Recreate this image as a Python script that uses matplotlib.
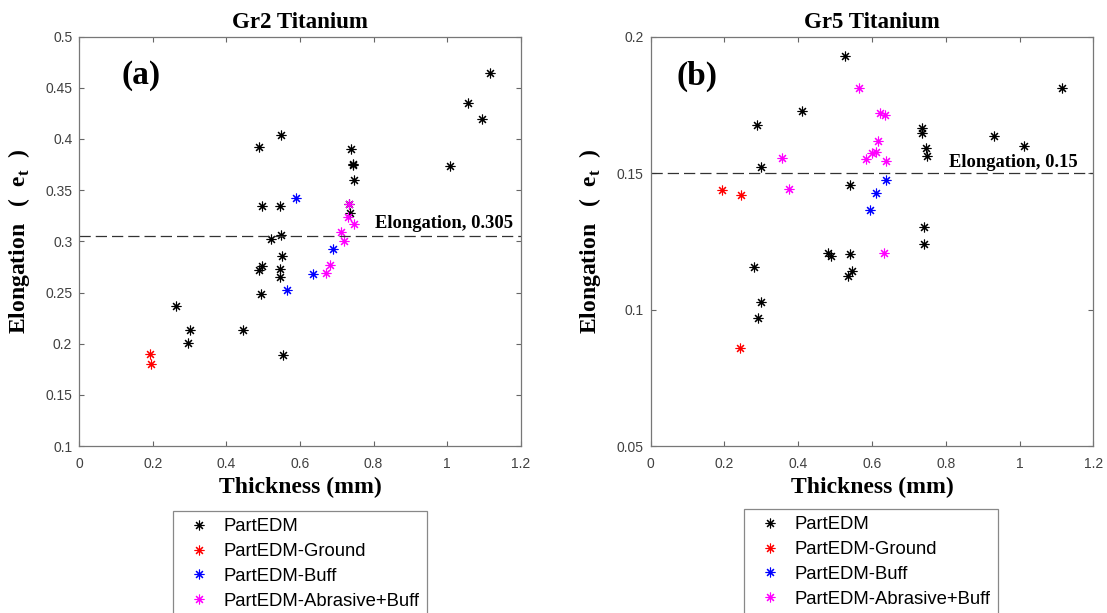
import matplotlib
matplotlib.use("Agg")
import matplotlib.pyplot as plt
from matplotlib.ticker import FormatStrFormatter

# Gr2 titanium: thickness (mm) and elongation
gr2_edm_t = [1.118, 1.057, 1.095, 1.008, 0.549, 0.488, 0.739, 0.744, 0.745, 0.747,
             0.497, 0.547, 0.737, 0.733, 0.548, 0.520, 0.552, 0.498, 0.488, 0.547,
             0.547, 0.494, 0.262, 0.300, 0.297, 0.445, 0.555]
gr2_edm_e = [0.464, 0.435, 0.420, 0.374, 0.404, 0.3925, 0.390, 0.376, 0.3745, 0.360,
             0.335, 0.3345, 0.328, 0.336, 0.306, 0.302, 0.286, 0.2756, 0.2717, 0.2726,
             0.2655, 0.2482, 0.2365, 0.213, 0.2007, 0.213, 0.1886]
gr2_ground_t = [0.192, 0.196]
gr2_ground_e = [0.190, 0.1805]
gr2_buff_t = [0.588, 0.690, 0.6345, 0.564]
gr2_buff_e = [0.3423, 0.2925, 0.268, 0.2524]
gr2_abr_t = [0.733, 0.732, 0.746, 0.7115, 0.719, 0.683, 0.6716]
gr2_abr_e = [0.336, 0.3235, 0.3166, 0.309, 0.300, 0.2772, 0.269]
gr2_limit = 0.305

# Gr5 titanium
gr5_edm_t = [0.528, 1.115, 0.410, 0.287, 0.736, 0.7355, 0.932, 1.013, 0.746, 0.750,
             0.298, 0.541, 0.742, 0.742, 0.481, 0.488, 0.540, 0.281, 0.545, 0.536,
             0.300, 0.290]
gr5_edm_e = [0.193, 0.1813, 0.1726, 0.1675, 0.1665, 0.1647, 0.1636, 0.1598, 0.1592, 0.1563,
             0.1521, 0.1458, 0.1301, 0.1241, 0.1206, 0.1196, 0.1202, 0.1157, 0.1143, 0.1124,
             0.1028, 0.0968]
gr5_ground_t = [0.1925, 0.244, 0.241]
gr5_ground_e = [0.1438, 0.1421, 0.0858]
gr5_buff_t = [0.637, 0.610, 0.5946]
gr5_buff_e = [0.1475, 0.1428, 0.1364]
gr5_abr_t = [0.5647, 0.6217, 0.635, 0.616, 0.611, 0.601, 0.5846, 0.357, 0.639, 0.375, 0.6325]
gr5_abr_e = [0.1811, 0.1722, 0.1714, 0.1616, 0.1577, 0.1574, 0.1553, 0.1554, 0.1544, 0.1442, 0.1206]
gr5_limit = 0.15

labels = ['PartEDM', 'PartEDM-Ground', 'PartEDM-Buff', 'PartEDM-Abrasive+Buff']
colors = ['k', '#ff0000', '#0000ff', '#ff00ff']

plt.rcParams['mathtext.fontset'] = 'custom'
plt.rcParams['mathtext.rm'] = 'Liberation Serif'
plt.rcParams['mathtext.bf'] = 'Liberation Serif:bold'

serif = dict(family='Liberation Serif', weight='bold')
asterisk = (8, 2, 0)

fig = plt.figure(figsize=(11.07, 6.13), dpi=100)
ax1 = fig.add_axes([0.0716, 0.2724, 0.3987, 0.6678])
ax2 = fig.add_axes([0.5878, 0.2724, 0.3998, 0.6678])


def panel(ax, series, limit, ylim, yticks, title, tag, tag_xy, note_xy, legend_xy):
    for (t, e), lab, c in zip(series, labels, colors):
        ax.plot(t, e, linestyle='none', marker=asterisk, markersize=7,
                markeredgewidth=0.8, color=c, label=lab)
    ax.axhline(limit, color='#333333', linestyle=(0, (9, 4)), linewidth=0.9)
    ax.text(note_xy[0], note_xy[1], 'Elongation, %g' % limit, ha='right', va='baseline',
            fontsize=13.3, **serif)
    ax.text(tag_xy[0], tag_xy[1], tag, ha='left', va='center', fontsize=24, **serif)

    ax.set_xlim(0, 1.2)
    ax.set_ylim(*ylim)
    ax.set_xticks([0, 0.2, 0.4, 0.6, 0.8, 1.0, 1.2])
    ax.set_yticks(yticks)
    ax.xaxis.set_major_formatter(FormatStrFormatter('%g'))
    ax.yaxis.set_major_formatter(FormatStrFormatter('%g'))
    ax.tick_params(direction='in', top=True, right=True, length=3.5, width=0.8,
                   color='#666666', labelcolor='#404040', labelsize=10)
    ax.tick_params(axis='x', pad=8)
    ax.tick_params(axis='y', pad=5)
    for s in ax.spines.values():
        s.set_color('#777777')
        s.set_linewidth(0.9)
    for lbl in ax.get_xticklabels() + ax.get_yticklabels():
        lbl.set_family('Liberation Sans')

    ax.set_title(title, fontsize=16.5, pad=6, **serif)
    ax.set_xlabel('Thickness (mm)', fontsize=17, labelpad=4, **serif)
    ax.set_ylabel('Elongation   (  e$_\\mathbf{t}$  )', fontsize=17, **serif)
    ax.yaxis.set_label_coords(-0.108, 0.5)

    leg = ax.legend(loc='upper left', bbox_to_anchor=legend_xy, bbox_transform=fig.transFigure,
                    borderaxespad=0, fancybox=False, framealpha=1, edgecolor='#888888',
                    prop={'family': 'Liberation Sans', 'size': 13.3},
                    handlelength=2.0, handletextpad=0.35, borderpad=0.4, labelspacing=0.42)
    leg.get_frame().set_linewidth(0.9)


panel(ax1,
      [(gr2_edm_t, gr2_edm_e), (gr2_ground_t, gr2_ground_e),
       (gr2_buff_t, gr2_buff_e), (gr2_abr_t, gr2_abr_e)],
      gr2_limit, (0.1, 0.5), [0.1, 0.15, 0.2, 0.25, 0.3, 0.35, 0.4, 0.45, 0.5],
      'Gr2 Titanium', '(a)', (0.116, 0.4616), (1.179, 0.313), (0.1563, 0.1664))

panel(ax2,
      [(gr5_edm_t, gr5_edm_e), (gr5_ground_t, gr5_ground_e),
       (gr5_buff_t, gr5_buff_e), (gr5_abr_t, gr5_abr_e)],
      gr5_limit, (0.05, 0.2), [0.05, 0.1, 0.15, 0.2],
      'Gr5 Titanium', '(b)', (0.0705, 0.1856), (1.157, 0.1521), (0.6721, 0.1697))

fig.savefig('out.png', dpi=100)
